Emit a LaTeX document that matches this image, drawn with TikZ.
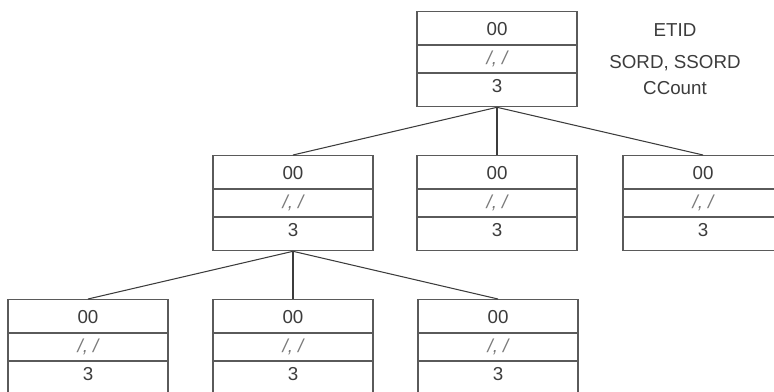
\documentclass[tikz,border=0pt]{standalone}
\usepackage{fontspec}
\setmainfont{Liberation Sans}
\usepackage{tikz}
\usetikzlibrary{calc}

\definecolor{edge}{HTML}{5A5A5A}
\definecolor{ink}{HTML}{3C3C3C}
\definecolor{soft}{HTML}{7A7A7A}

\tikzset{
  box/.style={draw=edge, line width=1.1pt, minimum width=4.8cm, minimum height=2.85cm,
              anchor=north, inner sep=0pt},
  txt/.style={text=ink, font=\fontsize{16}{18}\selectfont, inner sep=0pt},
  sord/.style={txt, text=soft, font=\fontsize{16}{18}\selectfont\itshape},
  link/.style={draw=ink, line width=0.9pt},
}

% one record: name, x, top y
\newcommand{\rec}[3]{%
  \node[box] (#1) at (#2,#3) {};
  \draw[edge, line width=1.1pt] ($(#1.north west)+(0,34)$) -- ($(#1.north east)+(0,34)$);
  \draw[edge, line width=1.1pt] ($(#1.north west)+(0,62)$) -- ($(#1.north east)+(0,62)$);
  \node[txt]  (#1-id)  at ($(#1.north)+(0,18)$) {00};
  \node[sord] (#1-ord) at ($(#1.north)+(0,48)$) {/, /};
  \node[txt]  (#1-cnt) at ($(#1.north)+(0,75)$) {3};
}

\begin{document}
\begin{tikzpicture}[x=0.03cm, y=-0.03cm]
    \useasboundingbox (0,0) rectangle (774,392);
    \clip (0,0) rectangle (774,392);

    \rec{root}{497}{11}
    \rec{a}{293}{155}
    \rec{b}{497}{155}
    \rec{c}{703}{155}
    \rec{aa}{88}{299}
    \rec{ab}{293}{299}
    \rec{ac}{498}{299}

    \node[txt] (etid)  at (675,30) {ETID};
    \node[txt] (ord)   at (675,63) {SORD, SSORD};
    \node[txt] (count) at (675,88) {CCount};

    \foreach \k in {a,b,c}
        \draw[link] (root.south) -- (\k.north);
    \foreach \k in {aa,ab,ac}
        \draw[link] (a.south) -- (\k.north);
  \end{tikzpicture}
\end{document}
